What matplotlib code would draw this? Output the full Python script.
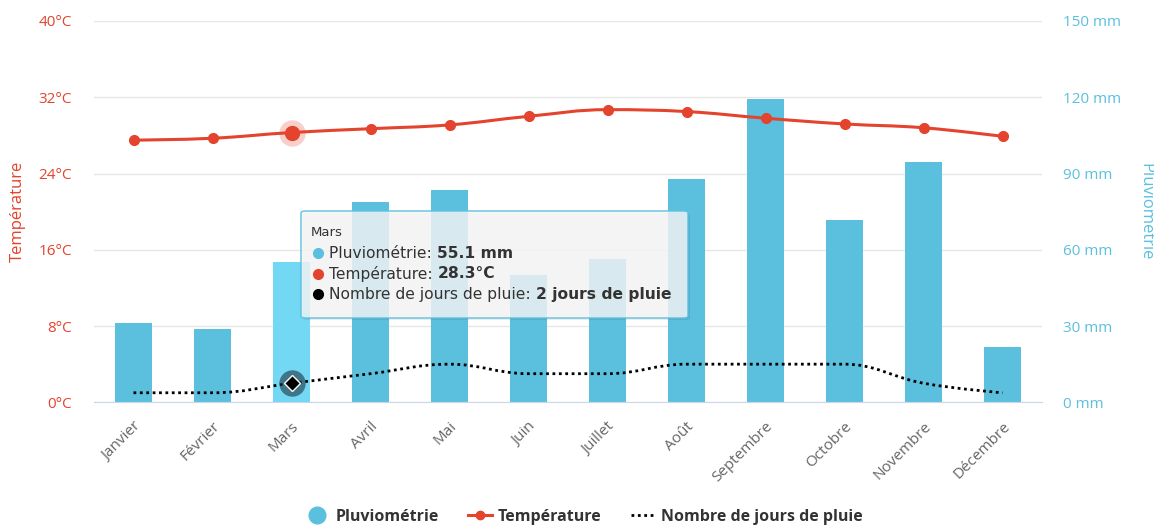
import numpy as np
import matplotlib
matplotlib.use("Agg")
import matplotlib.pyplot as plt
from matplotlib.path import Path
from matplotlib.patches import PathPatch, FancyBboxPatch
from matplotlib.lines import Line2D

plt.rcParams['font.family'] = ['Open Sans', 'DejaVu Sans']

months = ['Janvier', 'Février', 'Mars', 'Avril', 'Mai', 'Juin', 'Juillet',
          'Août', 'Septembre', 'Octobre', 'Novembre', 'Décembre']
rain_mm = [31.1, 28.9, 55.1, 78.7, 83.6, 50.1, 56.4, 87.9, 119.3, 71.7, 94.5, 21.9]
temp_c = [27.5, 27.7, 28.3, 28.7, 29.1, 30.0, 30.7, 30.5, 29.8, 29.2, 28.8, 27.9]
rain_days = [1, 1, 2, 3, 4, 3, 3, 4, 4, 4, 2, 1]
temp_ticks = [0, 8, 16, 24, 32, 40]
rain_ticks = [0, 30, 60, 90, 120, 150]
hover = 2  # Mars

BLUE = '#5bc0de'
BLUE_HI = '#72d8f4'
RED = '#e4432d'
GREY = '#666666'


def spline_path(x, y):
    # highcharts-like spline control points
    n = len(x)
    lc = [(x[i], y[i]) for i in range(n)]
    rc = [(x[i], y[i]) for i in range(n)]
    for i in range(1, n - 1):
        sm, d = 1.5, 2.5
        lx = (sm * x[i] + x[i - 1]) / d
        ly = (sm * y[i] + y[i - 1]) / d
        rx = (sm * x[i] + x[i + 1]) / d
        ry = (sm * y[i] + y[i + 1]) / d
        corr = ((ry - ly) * (rx - x[i])) / (rx - lx) + y[i] - ry
        ly += corr
        ry += corr
        if ly > y[i - 1] and ly > y[i]:
            ly = max(y[i - 1], y[i]); ry = 2 * y[i] - ly
        elif ly < y[i - 1] and ly < y[i]:
            ly = min(y[i - 1], y[i]); ry = 2 * y[i] - ly
        if ry > y[i + 1] and ry > y[i]:
            ry = max(y[i + 1], y[i]); ly = 2 * y[i] - ry
        elif ry < y[i + 1] and ry < y[i]:
            ry = min(y[i + 1], y[i]); ly = 2 * y[i] - ry
        lc[i] = (lx, ly)
        rc[i] = (rx, ry)
    verts = [(x[0], y[0])]
    codes = [Path.MOVETO]
    for i in range(n - 1):
        verts += [rc[i], lc[i + 1], (x[i + 1], y[i + 1])]
        codes += [Path.CURVE4] * 3
    return Path(verts, codes)


fig = plt.figure(figsize=(11.54, 5.27), dpi=100)
ax2 = fig.add_axes([94 / 1154, 124.7 / 527, 948 / 1154, 381.3 / 527])
ax = ax2.twinx()
ax.set_zorder(ax2.get_zorder() + 1)
ax.patch.set_visible(False)

x = np.arange(len(months))

# bars (rain)
bar_colors = [BLUE_HI if i == hover else BLUE for i in x]
ax2.bar(x, rain_mm, width=0.465, color=bar_colors, zorder=2)
ax2.set_ylim(0, 150)
ax2.set_xlim(-0.5, len(months) - 0.5)
ax2.set_yticks(rain_ticks)
ax2.yaxis.tick_right()
ax2.yaxis.set_label_position('right')
ax2.set_yticklabels([f'{v} mm' for v in rain_ticks], color=BLUE, fontsize=11)
ax2.grid(axis='y', color='#e6e6e6', linewidth=1)
ax2.set_axisbelow(True)
ax2.tick_params(axis='y', length=0, pad=15)
ax2.set_ylabel('Pluviométrie', color=BLUE, fontsize=12, rotation=270, va='center')
ax2.yaxis.set_label_coords((1145 - 94) / 948, 0.5)
ax2.set_xticks(x)
ax2.set_xticklabels(months, rotation=45, ha='right', rotation_mode='anchor',
                    color=GREY, fontsize=11)
ax2.tick_params(axis='x', length=0, pad=12)
for s in ['top', 'left', 'right']:
    ax2.spines[s].set_visible(False)
ax2.spines['bottom'].set_color('#ccd6eb')

# temperature + rain days on left axis
ax.yaxis.tick_left()
ax.yaxis.set_label_position('left')
ax.set_ylim(0, 40)
ax.set_yticks(temp_ticks)
ax.set_yticklabels([f'{v}°C' for v in temp_ticks], color=RED, fontsize=11)
ax.tick_params(axis='y', length=0, pad=16)
ax.set_ylabel('Température', color=RED, fontsize=12, va='center')
ax.yaxis.set_label_coords((18 - 94) / 948, 0.5)
for s in ax.spines.values():
    s.set_visible(False)

ax.add_patch(PathPatch(spline_path(x, temp_c), fill=False, edgecolor=RED,
                       linewidth=2.2, zorder=3, capstyle='round'))
ax.plot(x, temp_c, 'o', color=RED, markersize=7, zorder=4)
ax.plot(x[hover], temp_c[hover], 'o', color=RED, alpha=0.25, markersize=19,
        markeredgewidth=0, zorder=4)
ax.plot(x[hover], temp_c[hover], 'o', color=RED, markersize=10, zorder=5)

ax.add_patch(PathPatch(spline_path(x, rain_days), fill=False, edgecolor='black',
                       linewidth=2, linestyle=(0, (1, 1.3)), zorder=3))
ax.plot(x[hover], rain_days[hover], 'o', color='#1d3441', alpha=0.6,
        markersize=19, markeredgewidth=0, zorder=5)
ax.plot(x[hover], rain_days[hover], 'D', color='black', markeredgecolor='white',
        markeredgewidth=1, markersize=8, zorder=6)

# tooltip
W, H = 1154.0, 527.0
tx0, ty0, tx1, ty1 = 301, 211, 688, 318
box = FancyBboxPatch((tx0 / W, 1 - ty1 / H), (tx1 - tx0) / W, (ty1 - ty0) / H,
                     boxstyle='round,pad=0,rounding_size=0.004',
                     transform=fig.transFigure, facecolor='#f7f7f7', alpha=0.82,
                     edgecolor=BLUE, linewidth=1.2, zorder=10)
shadow = FancyBboxPatch(((tx0 + 2) / W, 1 - (ty1 + 2) / H), (tx1 - tx0) / W, (ty1 - ty0) / H,
                        boxstyle='round,pad=0,rounding_size=0.004',
                        transform=fig.transFigure, facecolor='black', alpha=0.08,
                        edgecolor='none', zorder=9)
fig.add_artist(shadow)
fig.add_artist(box)
tip_font = 'DejaVu Sans'
fig.text(311 / W, 1 - 233 / H, months[hover], fontsize=9.5, color='#333333',
         va='center', zorder=11, family=tip_font)

renderer = fig.canvas.get_renderer()
rows = [
    (BLUE, 'Pluviométrie: ', f'{rain_mm[hover]} mm'),
    (RED, 'Température: ', f'{temp_c[hover]}°C'),
    ('black', 'Nombre de jours de pluie: ', f'{rain_days[hover]} jours de pluie'),
]
for k, (c, lab, val) in enumerate(rows):
    yy = 1 - (253 + 20.5 * k) / H
    fig.add_artist(Line2D([318 / W], [yy], marker='o', color=c, markersize=7,
                          transform=fig.transFigure, zorder=11))
    t = fig.text(329 / W, yy, lab, fontsize=11.2, color='#333333', va='center',
                 zorder=11, family=tip_font)
    w = t.get_window_extent(renderer).width
    fig.text((329 + w) / W, yy, val, fontsize=11.2, color='#333333', va='center',
             fontweight='bold', zorder=11, family=tip_font)

# legend
handles = [
    Line2D([], [], marker='o', color=BLUE, linestyle='none', markersize=12),
    Line2D([], [], marker='o', color=RED, linewidth=2.2, markersize=6),
    Line2D([], [], color='black', linewidth=2, linestyle=(0, (1, 1.3))),
]
fig.legend(handles, ['Pluviométrie', 'Température', 'Nombre de jours de pluie'],
           loc='center', bbox_to_anchor=(0.506, 1 - 517 / H), ncol=3, frameon=False,
           prop={'weight': 'bold', 'size': 11.5}, handlelength=1.5,
           columnspacing=1.8, handletextpad=0.4, labelcolor='#333333')

fig.savefig('out.png', dpi=100)
